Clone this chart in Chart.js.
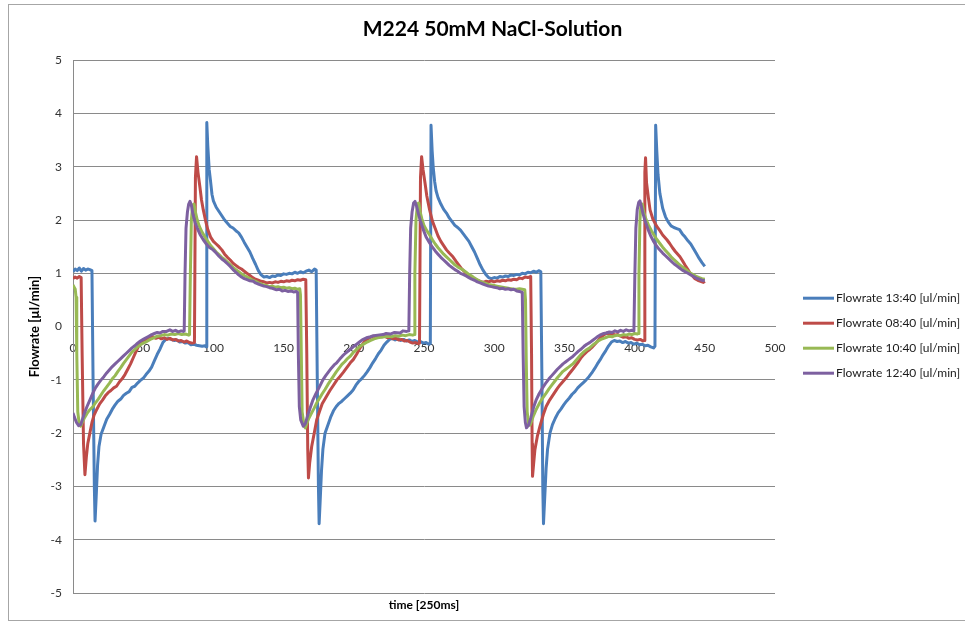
<!DOCTYPE html>
<html>
<head>
<meta charset="utf-8">
<title>M224 50mM NaCl-Solution</title>
<script src="https://cdn.jsdelivr.net/npm/chart.js@4.4.1/dist/chart.umd.min.js"></script>
<style>
  html, body { margin: 0; padding: 0; background: #fff; }
  #wrap { width: 965px; height: 626px; }
</style>
</head>
<body>
<div id="wrap"><canvas id="flowChart" width="965" height="626"></canvas></div>
<script>
const chartTitle = 'M224 50mM NaCl-Solution';
const xTitle = 'time [250ms]';
const yTitle = 'Flowrate [µl/min]';
const xTicks = { min: 0, max: 500, step: 50 };
const yTicks = { min: -5, max: 5, step: 1 };

const seriesLabels = [
    'Flowrate 13:40 [ul/min]',
    'Flowrate 08:40 [ul/min]',
    'Flowrate 10:40 [ul/min]',
    'Flowrate 12:40 [ul/min]'
];

// [time, flowrate] samples per run
const flow1340 = [
    [0,1.03],[1.5,1.08],[3,1.05],[4.5,1.10],[6,1.04],[7.5,1.09],[9,1.06],[10.5,1.08],[12,1.07],[13.5,1.05],
    [14.3,-1.0],[15.2,-3.0],[15.7,-3.65],[16.5,-3.2],[17.5,-2.6],[18.5,-2.25],[20,-2.02],[22,-1.88],[24,-1.74],[26,-1.65],
    [28,-1.55],[30,-1.47],[32,-1.40],[34,-1.36],[36,-1.29],[38,-1.25],[40,-1.22],[42,-1.14],[44,-1.12],[46,-1.06],
    [48,-1.01],[50,-0.97],[52,-0.90],[54,-0.84],[56,-0.76],[58,-0.64],[60,-0.52],[62,-0.42],[64,-0.30],[66,-0.24],
    [68,-0.22],[70,-0.24],[72,-0.26],[74,-0.25],[76,-0.29],[78,-0.28],[80,-0.31],[82,-0.30],[84,-0.34],[86,-0.33],
    [88,-0.35],[90,-0.36],[92,-0.37],[94,-0.36],[94.8,-0.38],[95.3,3.83],[96,3.4],[97,2.95],[98,2.72],[99,2.48],
    [100,2.36],[102,2.24],[104,2.16],[106,2.08],[108,2.00],[110,1.94],[112,1.88],[114,1.85],[116,1.80],[118,1.76],
    [120,1.68],[122,1.58],[124,1.49],[126,1.40],[128,1.28],[130,1.17],[132,1.05],[134,0.97],[136,0.93],[138,0.94],
    [140,0.92],[142,0.95],[144,0.94],[146,0.97],[148,0.96],[150,0.99],[152,0.98],[154,1.00],[156,0.99],[158,1.02],
    [160,1.00],[162,1.03],[164,1.01],[166,1.04],[168,1.06],[170,1.03],[172,1.08],[173.2,1.06],[174,-1.0],[174.8,-3.0],
    [175.3,-3.7],[176,-3.3],[177,-2.7],[178,-2.3],[179.5,-2.0],[181.5,-1.85],[183.5,-1.70],[185.5,-1.58],[187.5,-1.50],[189.5,-1.44],
    [191.5,-1.40],[193.5,-1.35],[195.5,-1.30],[197.5,-1.25],[199.5,-1.19],[201.5,-1.10],[203.5,-1.03],[205.5,-0.98],[207.5,-0.92],[209.5,-0.85],
    [211.5,-0.77],[213.5,-0.68],[215.5,-0.60],[217.5,-0.51],[219.5,-0.44],[221.5,-0.35],[223.5,-0.29],[225.5,-0.24],[227.5,-0.22],[229.5,-0.25],
    [231.5,-0.23],[233.5,-0.26],[235.5,-0.24],[237.5,-0.27],[239.5,-0.25],[241.5,-0.28],[243.5,-0.26],[245.5,-0.29],[247.5,-0.28],[249.5,-0.31],
    [251.5,-0.30],[253.5,-0.33],[254.5,-0.32],[255.0,3.78],[255.8,3.3],[256.6,2.98],[257.6,2.72],[258.6,2.55],[260,2.42],[262,2.30],
    [264,2.20],[266,2.13],[268,2.04],[270,1.97],[272,1.90],[274,1.86],[276,1.81],[278,1.74],[280,1.67],[282,1.60],
    [284,1.50],[286,1.40],[288,1.28],[290,1.16],[292,1.06],[294,0.98],[296,0.92],[298,0.90],[300,0.92],[302,0.91],
    [304,0.94],[306,0.93],[308,0.95],[310,0.94],[312,0.97],[314,0.96],[316,0.98],[318,0.97],[320,1.00],[322,0.99],
    [324,1.02],[326,1.01],[328,1.04],[330,1.02],[332,1.05],[333.2,1.03],[334,-1.0],[334.6,-3.0],[335.1,-3.7],[336,-3.2],
    [337,-2.65],[338,-2.3],[339.7,-2.0],[341.5,-1.84],[343.5,-1.72],[345.5,-1.62],[347.5,-1.55],[349.5,-1.47],[351.5,-1.40],[353.5,-1.34],
    [355.5,-1.27],[357.5,-1.22],[359.5,-1.15],[361.5,-1.10],[363.5,-1.05],[365.5,-1.00],[367.5,-0.94],[369.5,-0.87],[371.5,-0.79],[373.5,-0.70],
    [375.5,-0.62],[377.5,-0.53],[379.5,-0.45],[381.5,-0.36],[383.5,-0.29],[385.5,-0.26],[387.5,-0.28],[389.5,-0.27],[391.5,-0.30],[393.5,-0.28],
    [395.5,-0.31],[397.5,-0.30],[399.5,-0.33],[401.5,-0.31],[403.5,-0.34],[405.5,-0.33],[407.5,-0.36],[409.5,-0.35],[411.5,-0.38],[413.5,-0.40],
    [414.5,-0.37],[415.0,3.78],[415.8,3.3],[416.7,2.85],[418,2.5],[420,2.22],[422,2.06],[424,1.96],[426,1.89],[428,1.86],
    [430,1.84],[432,1.82],[434,1.74],[436,1.68],[438,1.61],[440,1.55],[442,1.46],[444,1.37],[446,1.28],[448,1.20],[450,1.13]
];

const flow0840 = [
    [0,0.90],[1.5,0.93],[3,0.91],[4.5,0.94],[5.8,0.92],[6.5,-0.5],[7.5,-2.2],[8.5,-2.78],[9.5,-2.45],[10.5,-2.2],
    [12,-2.0],[13.5,-1.8],[15,-1.66],[17,-1.55],[19,-1.45],[21,-1.38],[23,-1.30],[25,-1.24],[27,-1.20],[29,-1.15],
    [31,-1.12],[33,-1.04],[35,-0.98],[37,-0.90],[39,-0.80],[41,-0.70],[43,-0.58],[45,-0.46],[47,-0.35],[49,-0.30],
    [51,-0.26],[53,-0.24],[55,-0.21],[57,-0.19],[59,-0.22],[61,-0.20],[63,-0.23],[65,-0.21],[67,-0.24],[69,-0.22],
    [71,-0.25],[73,-0.24],[75,-0.27],[77,-0.26],[79,-0.29],[81,-0.27],[83,-0.30],[85,-0.31],[86.5,-0.30],[87.2,2.8],
    [88,3.19],[89,2.9],[90.4,2.62],[91.5,2.38],[92.8,2.19],[94.5,1.98],[96,1.82],[98,1.68],[100,1.60],[102,1.55],
    [104,1.50],[106,1.44],[108,1.36],[110,1.30],[112,1.25],[114,1.19],[116,1.15],[118,1.11],[120,1.08],[122,1.04],
    [124,1.00],[126,0.96],[128,0.92],[130,0.89],[132,0.87],[134,0.85],[136,0.84],[138,0.82],[140,0.83],[142,0.82],
    [144,0.84],[146,0.83],[148,0.85],[150,0.84],[152,0.86],[154,0.85],[156,0.87],[158,0.86],[160,0.88],[162,0.87],
    [164,0.89],[165.8,0.88],[166.5,-0.5],[167.2,-2.3],[167.7,-2.84],[168.6,-2.55],[170,-2.25],[171.8,-2.0],[173.6,-1.75],[175.5,-1.6],
    [177.5,-1.45],[180.5,-1.31],[183,-1.2],[185.5,-1.1],[188,-1.0],[190,-0.94],[192.5,-0.86],[195,-0.77],[197.5,-0.68],[199.6,-0.62],
    [202,-0.52],[204,-0.42],[206,-0.34],[208,-0.27],[210,-0.23],[212,-0.20],[214,-0.18],[216,-0.20],[218,-0.17],[220,-0.19],
    [222,-0.18],[224,-0.21],[226,-0.20],[228,-0.23],[230,-0.22],[232,-0.25],[234,-0.24],[236,-0.27],[238,-0.26],[240,-0.29],
    [242,-0.31],[244,-0.30],[246,-0.32],[246.8,-0.31],[247.5,2.8],[248.3,3.19],[249.3,2.95],[250.7,2.7],[252,2.45],[254,2.19],
    [256,1.98],[258,1.84],[260,1.70],[262,1.60],[264,1.52],[266,1.44],[268,1.38],[270.6,1.31],[273,1.22],[275,1.15],
    [277,1.08],[280,1.00],[282,0.96],[284,0.92],[286,0.89],[288,0.87],[290,0.85],[292,0.83],[294,0.85],[296,0.84],
    [298,0.86],[300,0.84],[302,0.86],[304,0.85],[306,0.87],[308,0.86],[310,0.88],[312,0.87],[314,0.89],[316,0.88],
    [318,0.91],[320,0.90],[322,0.93],[324,0.92],[326,0.94],[326.6,-0.5],[327,-2.2],[327.3,-2.81],[328,-2.6],[329,-2.31],
    [330.8,-2.05],[332.6,-1.87],[335,-1.65],[337,-1.50],[339,-1.40],[341,-1.32],[343,-1.24],[345,-1.16],[347,-1.09],[349,-1.03],
    [351,-0.97],[353,-0.90],[356,-0.80],[358,-0.73],[360,-0.66],[362,-0.58],[364,-0.52],[366,-0.47],[368,-0.43],[370,-0.38],
    [372,-0.32],[374,-0.26],[376,-0.20],[378,-0.16],[380,-0.12],[382,-0.14],[384,-0.13],[386,-0.16],[388,-0.15],[390,-0.18],
    [392,-0.20],[394,-0.19],[396,-0.22],[398,-0.21],[400,-0.24],[402,-0.25],[404,-0.24],[406,-0.27],[406.8,-0.26],[407.3,2.9],
    [407.8,3.17],[408.5,2.7],[409.8,2.42],[411,2.19],[413,2.02],[415.8,1.88],[418,1.80],[420,1.72],[423,1.63],[425,1.56],
    [427,1.48],[429,1.41],[432.3,1.31],[434,1.24],[436,1.15],[438,1.07],[439.5,1.00],[441,0.96],[443,0.90],[445,0.87],
    [447,0.85],[449,0.83],[450,0.85]
];

const flow1040 = [
    [0,0.78],[0.8,0.74],[1.6,0.70],[2.2,0.55],[2.7,-0.5],[3.4,-1.6],[4.5,-1.84],[5.5,-1.87],[6.5,-1.80],[8,-1.72],
    [10,-1.63],[12,-1.56],[14.3,-1.50],[16,-1.43],[18,-1.36],[20,-1.28],[22,-1.20],[24,-1.13],[26,-1.06],[28,-0.98],
    [30,-0.92],[32,-0.84],[34,-0.77],[36,-0.69],[38,-0.62],[40,-0.55],[42,-0.48],[44,-0.43],[46,-0.38],[48,-0.34],
    [50,-0.31],[52.5,-0.28],[55,-0.24],[57.5,-0.21],[60,-0.18],[62.5,-0.17],[65,-0.15],[67.5,-0.16],[70,-0.14],[72.5,-0.15],
    [75,-0.13],[77.5,-0.15],[80,-0.14],[82.5,-0.16],[83,-0.15],[83.6,1.0],[84.3,2.0],[85.2,2.28],[86.2,2.30],[87.2,2.15],
    [88.5,2.0],[90,1.88],[92,1.77],[94,1.68],[96,1.60],[98,1.52],[100,1.46],[102,1.40],[104,1.35],[106,1.30],
    [108,1.26],[110,1.21],[112,1.16],[114,1.11],[116,1.07],[118,1.03],[120,0.99],[122,0.96],[124,0.93],[126,0.90],
    [128,0.87],[130,0.85],[132,0.82],[134,0.80],[136,0.78],[138,0.77],[140,0.75],[142,0.76],[144,0.74],[146,0.75],
    [148,0.73],[150,0.74],[152,0.72],[154,0.73],[156,0.71],[158,0.72],[160,0.70],[161.5,0.71],[162,0.60],[162.6,-0.5],
    [163.2,-1.6],[164.5,-1.84],[165.5,-1.9],[166.5,-1.82],[168,-1.72],[170,-1.62],[171.8,-1.53],[173.6,-1.43],[175.5,-1.35],[177.5,-1.26],
    [179.5,-1.18],[181.5,-1.09],[183.5,-1.01],[185.5,-0.93],[187.5,-0.85],[189.5,-0.78],[191.5,-0.71],[193.5,-0.66],[195.5,-0.60],[197.3,-0.56],
    [199.5,-0.49],[201.5,-0.44],[203.5,-0.39],[205.5,-0.35],[207.5,-0.32],[209.5,-0.29],[212,-0.26],[214.5,-0.23],[217,-0.21],[219.5,-0.20],
    [222,-0.19],[224.5,-0.18],[227,-0.19],[229.5,-0.17],[232,-0.18],[234.5,-0.16],[237,-0.17],[239.5,-0.15],[242,-0.16],[243,-0.15],
    [243.5,1.0],[244.3,2.0],[245.3,2.3],[246.3,2.32],[247.3,2.15],[248.5,2.02],[250,1.90],[252,1.80],[254,1.72],[256,1.63],
    [258,1.55],[260,1.48],[262,1.42],[264,1.36],[266,1.31],[268,1.26],[270,1.21],[272,1.16],[274,1.12],[276,1.09],
    [278,1.06],[280,1.02],[282,0.98],[284,0.95],[286,0.91],[288,0.88],[290,0.85],[292,0.83],[294,0.81],[296,0.79],
    [298,0.78],[300,0.77],[302,0.76],[304,0.75],[306,0.74],[308,0.73],[310,0.72],[312,0.71],[314,0.70],[316,0.70],
    [318,0.71],[320,0.70],[321.8,0.69],[322.3,0.5],[322.8,-0.6],[323.5,-1.6],[324.5,-1.82],[325.5,-1.85],[326.5,-1.78],[328,-1.67],
    [330,-1.55],[332,-1.45],[334,-1.36],[337,-1.25],[339,-1.17],[341,-1.10],[343,-1.03],[345,-0.96],[347,-0.90],[349,-0.84],
    [351,-0.80],[353,-0.76],[356,-0.70],[358,-0.64],[360,-0.58],[362,-0.52],[364,-0.47],[366,-0.43],[368,-0.40],[370,-0.35],
    [372,-0.31],[374,-0.27],[376,-0.24],[378,-0.22],[380,-0.20],[382,-0.18],[384,-0.19],[386,-0.17],[388,-0.16],[390,-0.17],
    [392,-0.15],[394,-0.16],[396,-0.14],[398,-0.15],[400,-0.13],[402,-0.14],[402.6,-0.13],[403.1,1.0],[403.8,2.0],[404.5,2.28],
    [405.5,2.30],[406.5,2.15],[408,2.02],[410,1.90],[412,1.80],[414,1.71],[416,1.63],[418,1.56],[420,1.49],[422,1.43],
    [424,1.37],[426,1.31],[428,1.26],[430,1.21],[432,1.16],[434,1.12],[436,1.08],[438,1.04],[440,1.00],[442,0.97],
    [444,0.94],[446,0.92],[448,0.90],[450,0.89]
];

const flow1240 = [
    [0,-1.62],[1,-1.70],[2.5,-1.80],[4,-1.86],[5.5,-1.84],[7,-1.72],[8.5,-1.60],[10,-1.50],[12,-1.38],[14.3,-1.24],
    [16,-1.15],[18,-1.07],[20,-1.00],[22,-0.94],[24,-0.87],[26,-0.81],[28,-0.75],[30,-0.70],[32,-0.65],[34,-0.60],
    [36,-0.55],[38,-0.50],[40,-0.45],[42,-0.40],[44,-0.36],[46,-0.31],[48,-0.27],[50,-0.24],[52,-0.21],[54,-0.18],
    [56,-0.15],[58,-0.13],[60,-0.11],[62,-0.12],[64,-0.09],[66.7,-0.09],[69,-0.06],[71,-0.09],[73,-0.07],[75,-0.10],
    [77,-0.08],[78.5,-0.09],[79.2,-0.08],[79.8,1.0],[80.5,1.85],[81.5,2.15],[82.4,2.3],[83.3,2.35],[84.3,2.28],[85.5,2.1],
    [87,1.95],[88.5,1.85],[90.5,1.73],[92.8,1.63],[95,1.55],[97,1.49],[99.8,1.44],[102,1.38],[104,1.32],[106,1.27],
    [108,1.23],[110,1.18],[112,1.13],[114,1.07],[116,1.02],[118,0.97],[120,0.93],[122,0.90],[124,0.88],[126,0.86],
    [128.4,0.85],[130,0.82],[132,0.80],[134,0.78],[136,0.76],[138,0.75],[140,0.73],[142,0.72],[145,0.69],[147,0.70],
    [149,0.67],[151,0.68],[153,0.66],[155,0.67],[157,0.65],[159,0.66],[160,0.64],[160.5,-0.5],[161.2,-1.5],[162.2,-1.75],
    [164,-1.87],[165.5,-1.82],[167,-1.68],[169,-1.52],[171,-1.37],[173,-1.26],[175,-1.16],[178,-1.0],[180,-0.92],[182,-0.85],
    [184,-0.78],[186,-0.72],[187.8,-0.68],[190,-0.61],[192,-0.55],[194,-0.50],[197.3,-0.43],[200,-0.37],[202,-0.33],[204,-0.29],
    [206,-0.25],[209,-0.21],[212,-0.19],[214,-0.17],[217,-0.16],[220.8,-0.15],[223,-0.13],[226,-0.14],[229,-0.11],[233,-0.12],
    [235,-0.08],[237.6,-0.09],[239.2,-0.08],[239.8,1.0],[240.5,1.85],[241.5,2.15],[242.6,2.32],[243.6,2.35],[244.6,2.27],[246,2.12],
    [247.5,1.98],[249.5,1.82],[251.5,1.68],[254,1.57],[256,1.49],[258,1.42],[260,1.36],[262,1.30],[264,1.25],[266,1.20],
    [268,1.15],[270,1.11],[272,1.07],[274,1.04],[276,1.00],[277.8,0.98],[280,0.95],[282,0.92],[284,0.89],[286,0.87],
    [288,0.84],[290,0.82],[292,0.80],[294,0.78],[296,0.76],[298,0.75],[300,0.74],[302,0.73],[304,0.71],[306,0.72],
    [308,0.70],[310,0.71],[312,0.69],[314,0.70],[316,0.67],[318,0.66],[320,0.64],[320.6,-0.5],[321.3,-1.5],[322.2,-1.8],
    [323,-1.9],[324.5,-1.85],[326,-1.72],[328,-1.52],[330,-1.37],[332,-1.26],[334,-1.17],[337,-1.05],[339,-0.98],[341,-0.92],
    [343,-0.86],[345,-0.80],[347,-0.75],[349,-0.70],[351,-0.66],[353,-0.62],[356,-0.56],[358,-0.51],[360,-0.46],[362,-0.42],
    [364,-0.37],[366,-0.33],[368,-0.30],[370,-0.26],[372,-0.22],[374,-0.18],[376,-0.15],[378,-0.13],[380,-0.12],[382,-0.10],
    [384,-0.11],[386,-0.08],[388,-0.10],[390,-0.07],[392,-0.09],[394,-0.06],[396,-0.08],[398,-0.07],[399.5,-0.08],[400.2,1.0],
    [400.9,1.85],[401.9,2.2],[402.9,2.33],[403.8,2.36],[404.8,2.26],[406,2.12],[407.5,1.98],[409.5,1.83],[411.5,1.70],[413.5,1.60],
    [415.5,1.52],[417.5,1.45],[420,1.38],[422,1.33],[424,1.28],[426,1.23],[428,1.18],[430,1.14],[432,1.10],[434,1.06],
    [436,1.03],[438,1.00],[440,0.97],[442,0.94],[444,0.91],[446,0.89],[448,0.87],[450,0.86]
];

const seriesData = [flow1340, flow0840, flow1040, flow1240];
const seriesColors = ['#4A7EBB', '#BE4B48', '#98B954', '#7D60A0'];

const FONT = "Lato, 'Open Sans', sans-serif";
const GRID = '#8a8a8a';

// white page with the light frame around the whole chart
const chartFrame = {
    id: 'chartFrame',
    beforeDraw(chart) {
        const ctx = chart.ctx;
        ctx.save();
        ctx.fillStyle = '#fff';
        ctx.fillRect(0, 0, chart.width, chart.height);
        ctx.strokeStyle = '#a6a6a6';
        ctx.lineWidth = 1;
        ctx.strokeRect(8.5, 4.5, chart.width + 10, chart.height - 10);
        ctx.restore();
    }
};

// legend to the right of the plot, line sample + label
const sideLegend = {
    id: 'sideLegend',
    afterDraw(chart) {
        const {ctx, chartArea} = chart;
        const x0 = chartArea.right + 28;
        const rowH = 25;
        const y0 = chartArea.top + 238;
        ctx.save();
        ctx.font = `12px ${FONT}`;
        ctx.textBaseline = 'middle';
        ctx.textAlign = 'left';
        chart.data.datasets.forEach((ds, i) => {
            const y = y0 + i * rowH;
            ctx.strokeStyle = ds.borderColor;
            ctx.lineWidth = 3;
            ctx.beginPath();
            ctx.moveTo(x0, y);
            ctx.lineTo(x0 + 31, y);
            ctx.stroke();
            ctx.fillStyle = '#1a1a1a';
            ctx.fillText(ds.label, x0 + 33, y);
        });
        ctx.restore();
    }
};

const datasets = seriesData.map((rows, i) => ({
    label: seriesLabels[i],
    data: rows.map(r => ({ x: r[0], y: r[1] })),
    borderColor: seriesColors[i],
    backgroundColor: seriesColors[i],
    borderWidth: 3,
    pointRadius: 0,
    tension: 0,
    borderJoinStyle: 'round',
    showLine: true,
    // later runs are drawn on top
    order: seriesData.length - i
}));

new Chart(document.getElementById('flowChart'), {
    type: 'scatter',
    data: { datasets },
    options: {
        responsive: false,
        animation: false,
        events: [],
        layout: { padding: { left: 20, right: 0, top: 0, bottom: 0 } },
        plugins: {
            legend: { display: false },
            tooltip: { enabled: false },
            title: {
                display: true,
                text: chartTitle,
                color: '#000',
                font: { family: FONT, size: 21, weight: 'bold' },
                padding: { top: 17, bottom: 18 }
            }
        },
        scales: {
            x: {
                type: 'linear',
                min: xTicks.min,
                max: xTicks.max,
                position: { y: 0 },
                ticks: {
                    stepSize: xTicks.step,
                    color: '#333',
                    font: { family: FONT, size: 12 },
                    padding: 14,
                    maxRotation: 0
                },
                grid: { display: false, drawTicks: false },
                border: { color: GRID }
            },
            xTitle: {
                type: 'linear',
                position: 'bottom',
                min: xTicks.min,
                max: xTicks.max,
                ticks: { display: false },
                grid: { display: false, drawTicks: false },
                border: { display: false },
                title: {
                    display: true,
                    text: xTitle,
                    color: '#000',
                    font: { family: FONT, size: 12, weight: 'bold' },
                    padding: { top: 0, bottom: 14 }
                },
                afterFit(scale) { scale.height = 33; }
            },
            y: {
                type: 'linear',
                position: 'left',
                min: yTicks.min,
                max: yTicks.max,
                ticks: {
                    stepSize: yTicks.step,
                    color: '#333',
                    font: { family: FONT, size: 12 },
                    padding: 11
                },
                grid: { color: GRID, drawTicks: false },
                border: { color: GRID },
                title: {
                    display: true,
                    text: yTitle,
                    color: '#000',
                    font: { family: FONT, size: 13, weight: 'bold' },
                    padding: { top: 7, bottom: 0 }
                },
                afterFit(scale) { scale.width = 53; }
            },
            // empty column that leaves room for the legend
            legendSpace: {
                type: 'linear',
                position: 'right',
                ticks: { display: false },
                grid: { display: false, drawTicks: false },
                border: { display: false },
                afterFit(scale) { scale.width = 190; }
            }
        }
    },
    plugins: [chartFrame, sideLegend]
});
</script>
</body>
</html>
